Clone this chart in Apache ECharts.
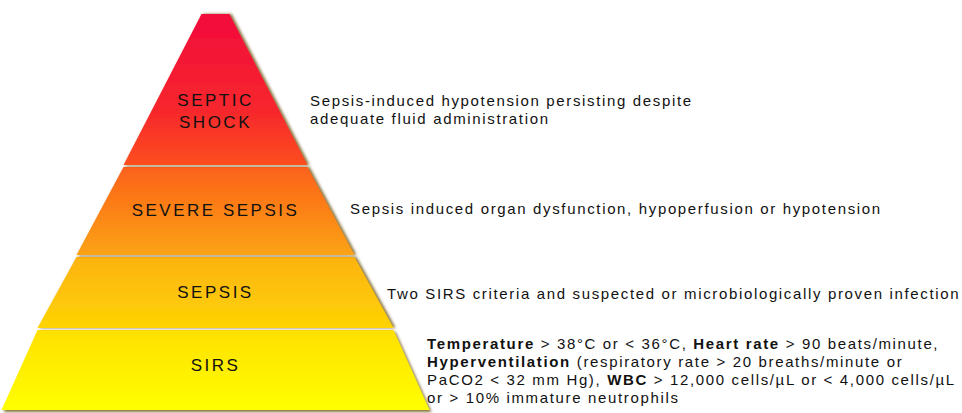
<!DOCTYPE html>
<html>
<head>
<meta charset="utf-8">
<style>
  html, body { margin: 0; padding: 0; background: #ffffff; }
  #chart { width: 962px; height: 413px; }
  #chart text[style*="17px"] { letter-spacing: 2.5px; }
  #chart text[style*="15px"] { letter-spacing: 1.65px; }
</style>
<script src="https://cdn.jsdelivr.net/npm/echarts@6/dist/echarts.min.js"></script>
</head>
<body>
<div id="chart"></div>
<script>
// ---------------- data ----------------
const levels = ['SIRS', 'SEPSIS', 'SEVERE SEPSIS', 'SEPTIC SHOCK'];
const levelLabels = ['SIRS', 'SEPSIS', 'SEVERE SEPSIS', 'SEPTIC\nSHOCK'];
// relative width of each layer's base (pyramid)
const baseWidths = [100, 82, 62.5, 39];
const descriptions = [
  '{b|Temperature} > 38°C or < 36°C, {b|Heart rate} > 90 beats/minute,\n' +
  '{b|Hyperventilation} (respiratory rate > 20 breaths/minute or\n' +
  'PaCO2 < 32 mm Hg), {b|WBC} > 12,000 cells/µL or < 4,000 cells/µL\n' +
  'or > 10% immature neutrophils',
  'Two SIRS criteria and suspected or microbiologically proven infection',
  'Sepsis induced organ dysfunction, hypoperfusion or hypotension',
  'Sepsis-induced hypotension persisting despite\nadequate fluid administration'
];

// ---------------- layout / style ----------------
const FONT = '"Liberation Sans", Arial, Helvetica, sans-serif';
const layerHeights = [80, 71, 88, 151];      // px, bottom to top
const labelShift = [-5, 0, -1, 22];          // px
const descPos = [[427, 370], [387, 293], [350, 208], [310, 109]];

const measureCtx = document.createElement('canvas').getContext('2d');
function spacingFor(font) {
  const m = /(\d+(?:\.\d+)?)px/.exec(font || '');
  const s = m ? parseFloat(m[1]) : 12;
  return s === 17 ? 2.5 : (s === 15 ? 1.65 : 0);
}
if (echarts.setPlatformAPI) {
  echarts.setPlatformAPI({
    measureText: function (text, font) {
      measureCtx.font = font || '12px sans-serif';
      measureCtx.letterSpacing = spacingFor(font) + 'px';
      return measureCtx.measureText(text);
    }
  });
}

const chart = echarts.init(document.getElementById('chart'), null, { renderer: 'svg' });

const fill = {
  type: 'linear', x: 0, y: 14, x2: 0, y2: 410, global: true,
  colorStops: [
    { offset: 0.00, color: '#f20a3c' },
    { offset: 0.25, color: '#f7282c' },
    { offset: 0.38, color: '#fd4e1e' },
    { offset: 0.39, color: '#fc621b' },
    { offset: 0.61, color: '#fca412' },
    { offset: 0.62, color: '#fdb40e' },
    { offset: 0.79, color: '#fed304' },
    { offset: 0.80, color: '#ffe002' },
    { offset: 1.00, color: '#ffff00' }
  ]
};

const option = {
  backgroundColor: '#ffffff',
  animation: false,
  series: [{
    type: 'funnel',
    sort: 'ascending',
    left: 0,
    top: 14,
    width: 431,
    height: 396,
    min: 0,
    max: 100,
    minSize: 28,
    maxSize: 428,
    gap: 2,
    funnelAlign: 'center',
    silent: true,
    emphasis: { disabled: true },
    itemStyle: {
      color: fill,
      borderWidth: 0,
      shadowColor: 'rgba(100,70,0,0.8)',
      shadowBlur: 3,
      shadowOffsetX: 2,
      shadowOffsetY: 0
    },
    label: {
      show: true,
      position: 'inside',
      color: '#111111',
      fontSize: 17,
      fontFamily: FONT,
      lineHeight: 22,
      formatter: function (p) { return levelLabels[p.dataIndex]; }
    },
    labelLine: { show: false },
    labelLayout: function (p) { return { dy: labelShift[p.dataIndex] }; },
    data: levels.map(function (name, i) {
      const item = { name: name, value: baseWidths[i], itemStyle: { height: layerHeights[i] } };
      if (i === 0) { item.itemStyle.shadowOffsetY = 2; }
      return item;
    })
  }],
  graphic: descriptions.map(function (d, i) {
    return {
      type: 'text',
      x: descPos[i][0],
      y: descPos[i][1],
      silent: true,
      style: {
        text: d,
        fontSize: 15,
        fontFamily: FONT,
        fill: '#111111',
        align: 'left',
        verticalAlign: 'middle',
        lineHeight: 18,
        rich: {
          b: { fontWeight: 'bold', fontSize: 15, fontFamily: FONT, lineHeight: 18, fill: '#111111' }
        }
      }
    };
  })
};
chart.setOption(option);
</script>
</body>
</html>
